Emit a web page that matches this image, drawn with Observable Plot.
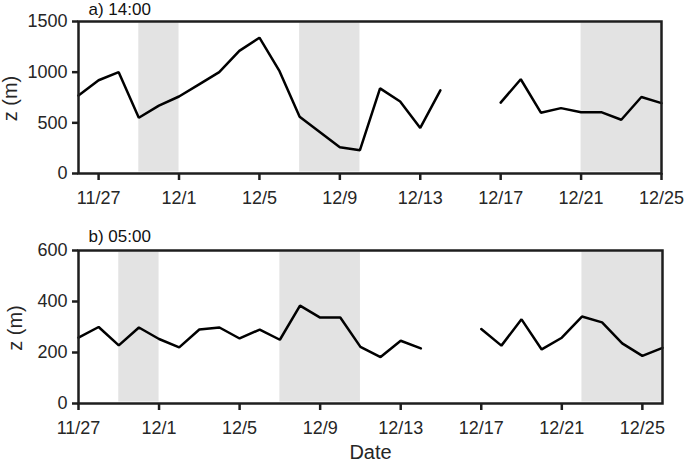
<!DOCTYPE html>
<html><head><meta charset="utf-8">
<script src="https://cdn.jsdelivr.net/npm/d3@7"></script>
<script src="https://cdn.jsdelivr.net/npm/@observablehq/plot@0.6"></script>
<style>
body{margin:0;background:#fff;}
#chart{position:relative;width:685px;height:462px;font-family:"Liberation Sans",Arial,sans-serif;}
#chart svg{position:absolute;left:0;overflow:visible;}
</style></head><body><div id="chart"></div>
<script>
// Panel a) 14:00
const dates14 = ["11/26","11/27","11/28","11/29","11/30","12/1","12/2","12/3","12/4","12/5","12/6","12/7","12/8","12/9","12/10","12/11","12/12","12/13","12/14","12/15","12/16","12/17","12/18","12/19","12/20","12/21","12/22","12/23","12/24","12/25"];
const z14 = [770,920,1000,550,670,760,880,1000,1210,1340,1010,560,410,260,230,840,710,450,820,null,null,700,930,600,645,605,605,530,755,695];
const shade14 = [["11/29","12/1"],["12/7","12/10"],["12/21","12/25"]];
const domain14 = ["11/26","12/25"];
const yTicks14 = [0,500,1000,1500];

// Panel b) 05:00
const dates05 = ["11/27","11/28","11/29","11/30","12/1","12/2","12/3","12/4","12/5","12/6","12/7","12/8","12/9","12/10","12/11","12/12","12/13","12/14","12/15","12/16","12/17","12/18","12/19","12/20","12/21","12/22","12/23","12/24","12/25","12/26"];
const z05 = [258,300,228,298,253,220,290,298,255,290,250,384,337,337,222,182,246,216,null,null,292,227,330,212,258,341,318,236,187,218];
const shade05 = [["11/29","12/1"],["12/7","12/11"],["12/22","12/26"]];
const domain05 = ["11/27","12/26"];
const yTicks05 = [0,200,400,600];

const xTickLabels = ["11/27","12/1","12/5","12/9","12/13","12/17","12/21","12/25"];
const titles = ["a) 14:00","b) 05:00"];
const yLabel = "z (m)";
const xLabel = "Date";

const toDate = s => { const [m,d] = s.split("/").map(Number); return new Date(Date.UTC(2016, m-1, d)); };
const fmt = d => `${d.getUTCMonth()+1}/${d.getUTCDate()}`;
const FONT = '"Liberation Sans", Arial, sans-serif';
const INK = "#262626";

function panel({dates, z, shade, domain, yTicks, title, top, height, mt, mb, mr, ylabDx, titleDy, showXLabel}) {
  const data = dates.map((d,i) => ({date: toDate(d), z: z[i]}));
  const ymax = yTicks[yTicks.length-1];
  const marks = [
    Plot.rectY(shade, {x1: d => toDate(d[0]), x2: d => toDate(d[1]), y1: () => 0, y2: () => ymax, fill: "#e3e3e3", insetTop: 1.5, insetBottom: 1.5}),
    Plot.line(data, {x: "date", y: "z", stroke: "#000", strokeWidth: 2.5, strokeLinejoin: "miter"}),
    Plot.frame({stroke: "#1e1e1e", strokeWidth: 2.5}),
    Plot.axisX({ticks: xTickLabels.map(toDate), tickFormat: fmt, tickSize: 7, tickPadding: 11, strokeWidth: 2.5, label: null, fontSize: 18, fill: INK, stroke: "#1e1e1e"}),
    Plot.axisY({ticks: yTicks, tickFormat: d => String(d), tickSize: 6, tickPadding: 5, strokeWidth: 2.5, label: null, fontSize: 18, fill: INK, stroke: "#1e1e1e"}),
    Plot.text([yLabel], {frameAnchor: "left", dx: ylabDx, dy: 1, rotate: -90, lineAnchor: "bottom", textAnchor: "middle", fontSize: 20, fill: INK}),
    Plot.text([title], {frameAnchor: "top-left", dx: 10, dy: titleDy, lineAnchor: "bottom", textAnchor: "start", fontSize: 17, fill: "#111"})
  ];
  if (showXLabel) marks.push(Plot.text([xLabel], {frameAnchor: "bottom", dy: 55.5, lineAnchor: "bottom", textAnchor: "middle", fontSize: 20, fill: INK}));
  const svg = Plot.plot({
    width: 685, height, marginLeft: 78, marginRight: mr, marginTop: mt, marginBottom: mb,
    style: {fontFamily: FONT, fontSize: "18px", color: INK, background: "transparent", overflow: "visible"},
    x: {type: "utc", domain: domain.map(toDate)},
    y: {domain: [0, ymax]},
    marks
  });
  svg.style.top = top + "px";
  document.getElementById("chart").appendChild(svg);
}

panel({dates: dates14, z: z14, shade: shade14, domain: domain14, yTicks: yTicks14, title: titles[0],
  top: 0, height: 210, mt: 21, mb: 37, mr: 24, ylabDx: -62, titleDy: -6.3, showXLabel: false});
panel({dates: dates05, z: z05, shade: shade05, domain: domain05, yTicks: yTicks05, title: titles[1],
  top: 210, height: 252, mt: 40, mb: 59, mr: 23, ylabDx: -57, titleDy: -9, showXLabel: true});
</script></body></html>
